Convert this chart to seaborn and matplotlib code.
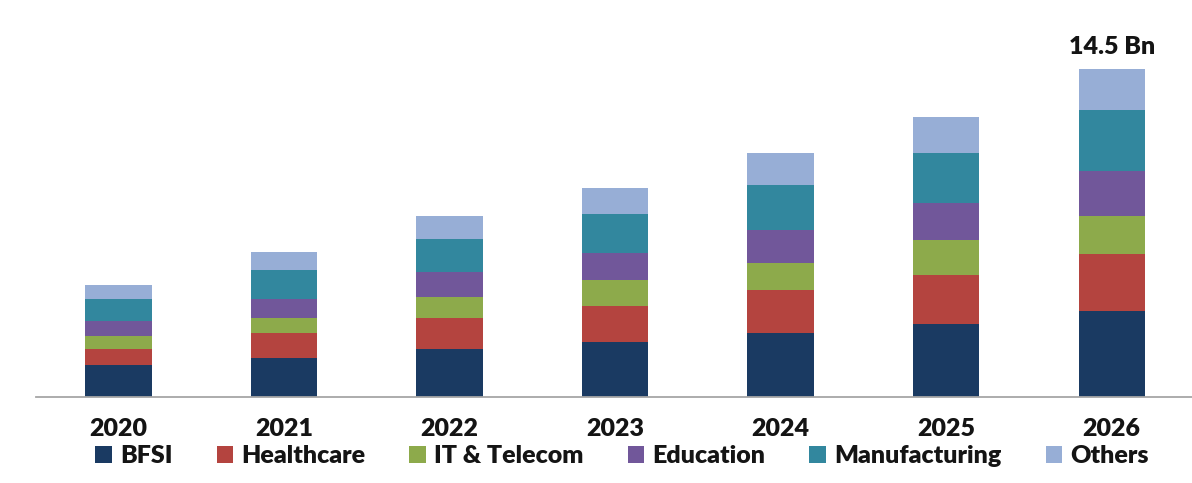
import numpy as np
import pandas as pd
import matplotlib
matplotlib.use("Agg")
import matplotlib.pyplot as plt
from matplotlib.patches import Patch
import seaborn as sns

# Values (Bn)
years = ['2020', '2021', '2022', '2023', '2024', '2025', '2026']
bfsi = [1.42, 1.73, 2.13, 2.44, 2.84, 3.24, 3.78]
healthcare = [0.71, 1.11, 1.38, 1.60, 1.87, 2.13, 2.53]
it_telecom = [0.58, 0.67, 0.93, 1.11, 1.20, 1.56, 1.69]
education = [0.67, 0.84, 1.07, 1.20, 1.47, 1.64, 2.00]
manufacturing = [0.93, 1.24, 1.47, 1.73, 2.00, 2.22, 2.67]
others = [0.62, 0.80, 1.02, 1.16, 1.38, 1.60, 1.82]

segments = ['BFSI', 'Healthcare', 'IT & Telecom', 'Education', 'Manufacturing', 'Others']
colors = ['#1A3A62', '#B4443F', '#8DAA4B', '#71579A', '#32879E', '#97AED6']

df = pd.DataFrame({'Year': years, 'BFSI': bfsi, 'Healthcare': healthcare,
                   'IT & Telecom': it_telecom, 'Education': education,
                   'Manufacturing': manufacturing, 'Others': others})
cum = df[segments].cumsum(axis=1)

sns.set_style('white')
plt.rcParams['font.family'] = ['Lato', 'DejaVu Sans']

fig = plt.figure(figsize=(11.92, 4.83), dpi=100)
ax = fig.add_axes([0.030, 0.178, 0.972, 0.75])

# stacked bars: draw cumulative totals from top segment down
for seg, col in zip(segments[::-1], colors[::-1]):
    sns.barplot(x=df['Year'], y=cum[seg], order=years, color=col,
                saturation=1, width=0.4, ax=ax, edgecolor='none')

ax.set_xlim(-0.5, 6.48)
ax.set_ylim(0, 16)
ax.set_xlabel('')
ax.set_ylabel('')
ax.set_yticks([])
for s in ['left', 'right', 'top']:
    ax.spines[s].set_visible(False)
ax.spines['bottom'].set_color('#A6A6A6')
ax.spines['bottom'].set_linewidth(1.3)

ax.set_xticks(range(len(years)))
ax.set_xticklabels(years, fontsize=18, fontweight='heavy', color='#141414')
ax.tick_params(axis='x', which='major', length=0, pad=15)
ax.set_xticks(np.arange(-0.5, 7, 1), minor=True)
ax.tick_params(axis='x', which='minor', length=9, width=1.3, color='#A6A6A6',
               direction='out')

total_2026 = cum['Others'].iloc[-1]
ax.text(6, total_2026 + 0.5, '14.5 Bn', ha='center', va='bottom',
        fontsize=18, fontweight='heavy', color='#141414')

handles = [Patch(facecolor=c, edgecolor='none', label=s) for s, c in zip(segments, colors)]
fig.legend(handles=handles, loc='center', bbox_to_anchor=(0.522, 1 - 456 / 483),
           ncol=6, frameon=False, handlelength=0.65, handleheight=0.65,
           handletextpad=0.35, columnspacing=1.75,
           prop={'size': 18, 'weight': 'heavy'})
for t in fig.legends[0].get_texts():
    t.set_color('#141414')

fig.savefig('out.png', dpi=100)
